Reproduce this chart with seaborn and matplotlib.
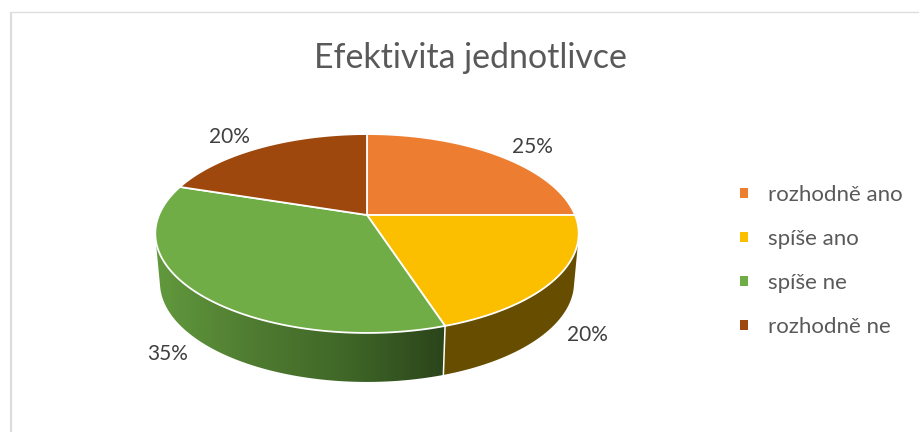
import numpy as np
import matplotlib
matplotlib.use("Agg")
import matplotlib.pyplot as plt
from matplotlib.colors import LinearSegmentedColormap
from matplotlib.patches import Patch, Polygon
import seaborn as sns

# Survey results
title = "Efektivita jednotlivce"
categories = ["rozhodně ano", "spíše ano", "spíše ne", "rozhodně ne"]
shares = [25, 20, 35, 20]
top_colors = ["#ED7D31", "#FBBF00", "#70AD47", "#9E480E"]
right_wall_color = "#664D00"
green_wall_gradient = ["#62993D", "#4F7C31", "#3F6627", "#2B451B"]
label_positions = [(532, 147), (587, 335), (168, 354), (229, 137)]

# Projection of the pie disc onto the page (pixel units)
APEX_X, APEX_Y = 367, 215
RADIUS_X, RADIUS_Y = 208, 96
TILT = 0.186
DEPTH = 49
BASE_SCALE = 0.978

sns.set_theme(style="white")
plt.rcParams["font.family"] = ["Lato", "DejaVu Sans"]

fig = plt.figure(figsize=(9.2, 4.32), dpi=100)
ax = fig.add_axes([0, 0, 1, 1])
ax.set_axis_off()


def rim(angles, base=False):
    """Project clockwise angles (from twelve o'clock) onto the page."""
    u, v = np.sin(angles), np.cos(angles)
    w = 1 + TILT * v
    sx = BASE_SCALE if base else 1.0
    x = APEX_X + sx * RADIUS_X * u / w
    y = APEX_Y - RADIUS_Y * v / w + (DEPTH if base else 0)
    return np.column_stack([x, y])


def convex_hull(points):
    """Monotone-chain hull, returned as an ordered outline."""
    pts = sorted(map(tuple, points))

    def half(seq):
        chain = []
        for p in seq:
            while len(chain) > 1:
                (ax_, ay_), (bx_, by_) = chain[-2], chain[-1]
                if (bx_ - ax_) * (p[1] - ay_) - (by_ - ay_) * (p[0] - ax_) > 0:
                    break
                chain.pop()
            chain.append(p)
        return chain[:-1]

    return np.array(half(pts) + half(pts[::-1]))


edges = np.cumsum([0] + shares) / sum(shares) * 2 * np.pi
arcs = [np.linspace(a, b, 200) for a, b in zip(edges[:-1], edges[1:])]

# The drum seen from above: outline of both rims, split at the front seam
circle = np.linspace(0, 2 * np.pi, 720, endpoint=False)
drum = convex_hull(np.vstack([rim(circle), rim(circle, base=True)]))
seam_angle = np.array([edges[2]])
seam_top, seam_base = rim(seam_angle)[0], rim(seam_angle, base=True)[0]
seam_x = np.interp(drum[:, 1], [seam_top[1], seam_base[1]], [seam_top[0], seam_base[0]])
seam_pts = np.array([seam_top, seam_base])


def side_outline(mask):
    pts = np.vstack([drum[mask], seam_pts])
    center = pts.mean(axis=0)
    order = np.argsort(np.arctan2(pts[:, 1] - center[1], pts[:, 0] - center[0]))
    return pts[order]


right_side = side_outline(drum[:, 0] > seam_x)
left_side = side_outline(drum[:, 0] < seam_x)

ax.add_patch(Polygon(right_side, closed=True, facecolor=right_wall_color,
                     edgecolor="none", zorder=1))

cmap = LinearSegmentedColormap.from_list("wall", green_wall_gradient)
clip = Polygon(left_side, closed=True, transform=ax.transData,
               facecolor="none", edgecolor="none")
ax.add_patch(clip)
image = ax.imshow(np.linspace(0, 1, 256)[None, :], cmap=cmap, aspect="auto",
                  extent=[left_side[:, 0].min(), seam_top[0], 400, 200], zorder=1)
image.set_clip_path(clip)

# White seam between neighbouring walls at the front of the pie
ax.plot(seam_pts[:, 0], seam_pts[:, 1], color="white", lw=1.1, zorder=2)

# Top faces
for i, arc in enumerate(arcs):
    face = np.vstack([[APEX_X, APEX_Y], rim(arc)])
    ax.add_patch(Polygon(face, closed=True, facecolor=top_colors[i],
                         edgecolor="white", lw=1.3, joinstyle="round", zorder=3))

# Value labels
for share, (x, y) in zip(shares, label_positions):
    ax.text(x, y, f"{share}%", ha="center", va="center", fontsize=15,
            color="#404040", zorder=4)

ax.text(470, 58, title, ha="center", va="center", fontsize=24.4, color="#595959")

# Chart frame
ax.plot([11, 11], [432, 12], color="#DCDCDC", lw=1.6, zorder=0, solid_capstyle="butt")
ax.plot([11, 920], [12, 12], color="#DDDDDD", lw=1.0, zorder=0, solid_capstyle="butt")

handles = [Patch(facecolor=c, edgecolor="none", label=n)
           for c, n in zip(top_colors, categories)]
legend = ax.legend(handles=handles, loc="center left", bbox_to_anchor=(740 / 920, 1 - 261 / 432),
                   frameon=False, fontsize=16, handlelength=0.36, handleheight=0.36,
                   handletextpad=0.9, labelspacing=1.08, borderpad=0, borderaxespad=0,
                   labelcolor="#595959")

ax.set_xlim(0, 920)
ax.set_ylim(432, 0)
fig.savefig("out.png", dpi=100, facecolor="white")
